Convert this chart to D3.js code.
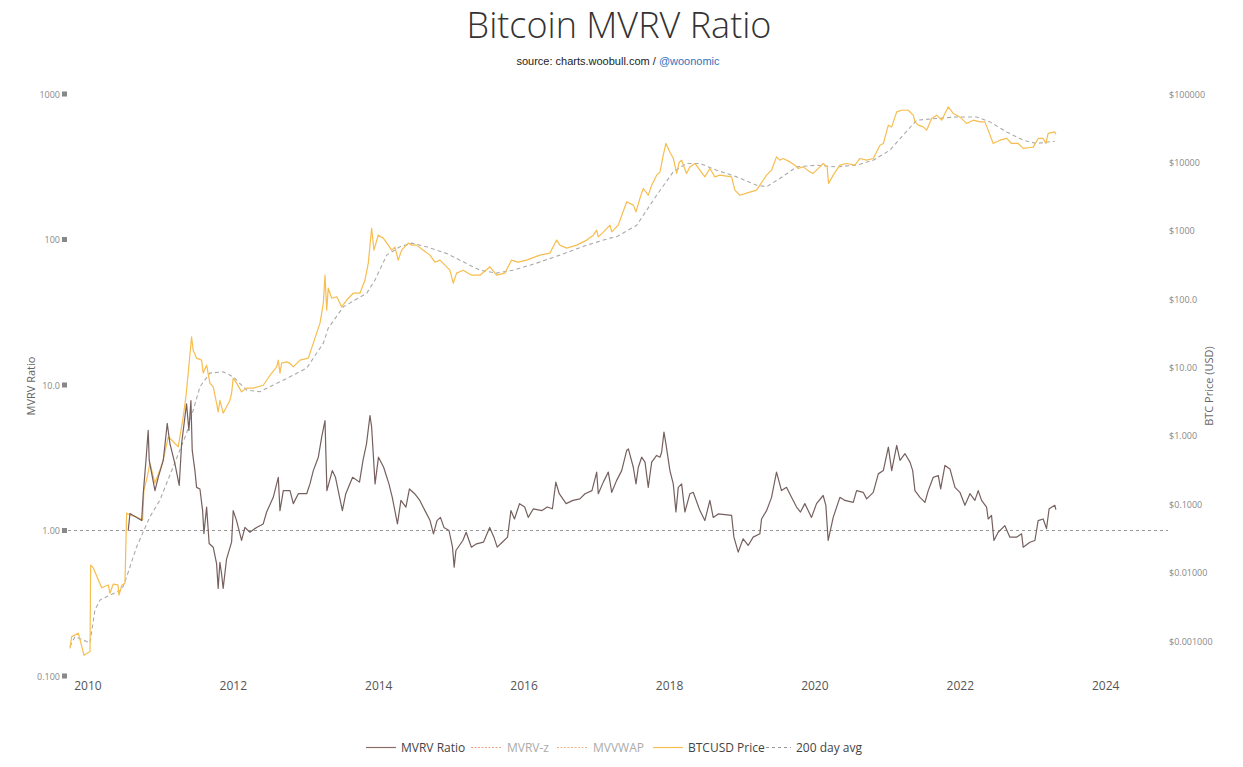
<!DOCTYPE html>
<html>
<head>
<meta charset="utf-8">
<script src="https://cdn.jsdelivr.net/npm/d3@7"></script>
<style>
  html, body { margin: 0; padding: 0; background: #fff; }
  svg { display: block; }
</style>
</head>
<body>
<svg id="chart" width="1243" height="767"></svg>
<script>
// ---------- DATA (decimal years) ----------
const xTickYears = [2010, 2012, 2014, 2016, 2018, 2020, 2022, 2024];
const mvrvTickLabels = ["1000", "100", "10.0", "1.00", "0.100"];
const mvrvTickValues = [1000, 100, 10, 1, 0.1];
const priceTickLabels = ["$100000", "$10000", "$1000", "$100.0", "$10.00", "$1.000", "$0.1000", "$0.01000", "$0.001000"];
const priceTickValues = [100000, 10000, 1000, 100, 10, 1, 0.1, 0.01, 0.001];
const legendLabels = ["MVRV Ratio", "MVRV-z", "MVVWAP", "BTCUSD Price", "200 day avg"];

const priceDates = [2009.752,2009.776,2009.867,2009.945,2010.028,2010.037,2010.073,2010.188,2010.279,2010.303,2010.348,2010.413,2010.426,2010.468,2010.509,
2010.532,2010.578,2010.670,2010.752,2010.770,2010.816,2010.853,2010.922,2010.990,2011.036,2011.105,2011.151,2011.242,2011.311,2011.348,2011.380,2011.426,
2011.448,2011.495,2011.564,2011.586,2011.633,2011.678,2011.724,2011.770,2011.792,2011.816,2011.861,2011.908,2011.953,2011.977,2011.999,2012.045,2012.114,
2012.183,2012.274,2012.411,2012.527,2012.596,2012.618,2012.641,2012.664,2012.733,2012.779,2012.824,2012.916,2013.030,2013.099,2013.191,2013.237,2013.260,
2013.283,2013.305,2013.352,2013.421,2013.490,2013.558,2013.649,2013.741,2013.810,2013.856,2013.902,2013.934,2013.993,2014.062,2014.131,2014.177,2014.223,
2014.268,2014.315,2014.406,2014.457,2014.521,2014.612,2014.704,2014.773,2014.842,2014.911,2014.979,2015.025,2015.071,2015.162,2015.278,2015.392,2015.530,
2015.622,2015.736,2015.828,2015.915,2016.034,2016.217,2016.355,2016.447,2016.492,2016.585,2016.722,2016.860,2016.951,2016.997,2017.019,2017.088,2017.180,
2017.204,2017.294,2017.410,2017.501,2017.538,2017.593,2017.638,2017.707,2017.754,2017.822,2017.868,2017.913,2017.950,2018.005,2018.051,2018.098,2018.133,
2018.166,2018.234,2018.280,2018.349,2018.418,2018.486,2018.555,2018.624,2018.693,2018.854,2018.899,2018.968,2019.060,2019.197,2019.243,2019.336,2019.404,
2019.472,2019.518,2019.564,2019.656,2019.725,2019.770,2019.839,2019.931,2019.977,2020.069,2020.114,2020.169,2020.188,2020.252,2020.344,2020.436,2020.550,
2020.619,2020.711,2020.802,2020.894,2020.940,2021.009,2021.055,2021.124,2021.192,2021.283,2021.352,2021.375,2021.421,2021.490,2021.536,2021.605,2021.674,
2021.742,2021.833,2021.902,2021.994,2022.086,2022.178,2022.270,2022.338,2022.383,2022.452,2022.545,2022.637,2022.705,2022.796,2022.865,2022.957,2023.003,
2023.071,2023.140,2023.177,2023.209,2023.301,2023.315];
const priceValues = [0.00078,0.00116,0.0013,0.00062,0.0007,0.0129,0.0117,0.006,0.0066,0.005,0.0068,0.0066,0.0047,0.0066,0.0070,
0.0743,0.0695,0.065,0.0587,0.161,0.252,0.40,0.204,0.316,0.443,0.97,0.87,0.69,1.9,3.73,8.3,28,
17.9,13.7,12.8,8.3,10.8,5.9,5.2,3.0,2.25,3.3,2.15,2.66,3.3,4.2,7.0,5.9,4.4,
5.0,5.0,5.5,8.3,10.2,12.8,8.3,11.6,12.1,11.5,10.2,12.8,13.7,22.7,44.6,87.5,224,
69,145,103,108,77,97,122,122,190,336,1090,520,862,780,616,520,575,
372,520,659,616,616,520,440,347,372,314,265,171,240,265,224,224,297,
224,240,372,347,372,440,471,730,616,557,616,730,862,1020,815,955,1210,
964,1210,2650,2370,1890,3000,4150,3310,4640,6500,7200,12740,18900,14100,11500,6890,10070,
10770,6890,8590,9640,7690,6140,8140,6140,6500,6140,3930,3310,3550,3930,4640,6500,7690,
12030,10770,11400,10160,9100,8140,8590,7260,6890,8590,9640,8590,4920,6500,9100,9640,9100,
11400,10770,11400,17800,18900,35000,33000,54700,57900,57900,49000,39100,35000,33000,29600,43900,49000,
41400,64700,51900,46200,37100,41400,39100,39100,29600,18900,21100,22400,18900,18900,16000,16500,16700,
22400,22400,18900,26500,27900,25800];

const avgDates = [2009.752,2009.821,2010.028,2010.096,2010.165,2010.303,2010.464,2010.532,2010.670,2010.853,2010.990,2011.173,2011.358,2011.541,2011.678,
2011.861,2011.999,2012.183,2012.366,2012.549,2012.779,2013.008,2013.237,2013.305,2013.512,2013.834,2013.948,2014.109,2014.292,2014.453,2014.659,2014.934,
2015.162,2015.392,2015.622,2015.850,2016.172,2016.492,2016.860,2017.180,2017.272,2017.547,2017.822,2018.051,2018.234,2018.418,2018.648,2018.923,2019.197,
2019.336,2019.518,2019.748,2020.023,2020.298,2020.573,2020.802,2021.031,2021.214,2021.398,2021.674,2021.949,2022.224,2022.407,2022.637,2022.865,2023.049,2023.301];
const avgValues = [0.00083,0.00116,0.00094,0.00284,0.00397,0.0047,0.00557,0.00863,0.0239,0.0656,0.115,0.353,1.10,5.22,8.28,
8.65,7.31,4.68,4.42,5.53,7.31,9.8,22.7,37.7,77,122,190,440,582,659,582,466,
351,265,240,265,336,440,616,780,815,1200,3310,7260,9640,9640,7690,6140,4640,
4400,5820,8590,9100,8590,9100,10770,15100,25000,41400,43900,46200,46200,39100,27900,21100,18900,20400];

const mvrvDates = [2010.554,2010.578,2010.739,2010.761,2010.798,2010.829,2010.843,2010.922,2010.967,2011.036,2011.091,2011.128,2011.197,2011.256,2011.289,
2011.334,2011.357,2011.389,2011.417,2011.435,2011.472,2011.495,2011.541,2011.578,2011.596,2011.633,2011.668,2011.724,2011.770,2011.792,2011.816,2011.839,
2011.861,2011.908,2011.977,2011.999,2012.045,2012.114,2012.160,2012.228,2012.320,2012.411,2012.458,2012.549,2012.618,2012.641,2012.687,2012.779,2012.824,
2012.893,2013.008,2013.053,2013.099,2013.168,2013.214,2013.260,2013.286,2013.360,2013.404,2013.499,2013.546,2013.640,2013.735,2013.783,2013.831,2013.879,
2013.902,2013.949,2013.996,2014.067,2014.140,2014.186,2014.257,2014.305,2014.374,2014.422,2014.494,2014.565,2014.636,2014.706,2014.753,2014.802,2014.849,
2014.897,2014.967,2015.015,2015.038,2015.062,2015.157,2015.203,2015.275,2015.346,2015.441,2015.527,2015.585,2015.630,2015.700,2015.773,2015.819,2015.868,
2015.938,2016.009,2016.057,2016.128,2016.246,2016.317,2016.389,2016.436,2016.483,2016.577,2016.672,2016.766,2016.837,2016.932,2016.997,2017.019,2017.088,
2017.157,2017.204,2017.272,2017.341,2017.410,2017.433,2017.501,2017.538,2017.570,2017.616,2017.662,2017.707,2017.754,2017.822,2017.868,2017.891,2017.923,
2017.950,2018.005,2018.051,2018.088,2018.120,2018.166,2018.211,2018.280,2018.326,2018.418,2018.486,2018.555,2018.601,2018.670,2018.854,2018.886,2018.945,
2019.013,2019.082,2019.151,2019.243,2019.266,2019.336,2019.404,2019.472,2019.541,2019.610,2019.679,2019.748,2019.802,2019.862,2019.954,2020.023,2020.114,
2020.151,2020.183,2020.252,2020.344,2020.413,2020.527,2020.573,2020.664,2020.711,2020.802,2020.871,2020.940,2021.009,2021.055,2021.124,2021.169,2021.238,
2021.307,2021.344,2021.375,2021.444,2021.513,2021.558,2021.627,2021.696,2021.729,2021.788,2021.857,2021.926,2021.994,2022.063,2022.132,2022.200,2022.246,
2022.292,2022.361,2022.383,2022.429,2022.462,2022.521,2022.613,2022.682,2022.774,2022.843,2022.865,2022.957,2023.026,2023.071,2023.140,2023.186,2023.222,
2023.301,2023.315];
const mvrvValues = [1.00,1.31,1.17,1.80,3.03,4.87,3.03,1.88,2.32,3.03,5.44,3.96,2.87,2.04,3.96,
6.01,7.43,4.87,7.82,3.55,2.58,1.98,1.93,1.37,0.953,1.45,0.814,0.768,0.593,0.40,0.605,0.504,
0.40,0.639,0.831,1.37,1.17,0.854,1.05,0.973,1.05,1.11,1.34,1.69,2.32,1.37,1.88,1.88,1.53,
1.79,1.79,2.09,2.58,3.19,4.38,5.70,1.88,2.58,2.32,1.37,1.79,2.32,2.15,3.03,3.94,6.17,
5.13,2.09,3.19,2.72,2.09,1.69,1.11,1.61,1.45,1.93,1.79,1.61,1.37,1.17,0.949,1.17,1.23,
1.05,1.00,0.768,0.56,0.729,0.854,0.973,0.768,0.81,0.831,1.05,0.90,0.768,0.831,0.90,1.37,1.20,
1.53,1.45,1.23,1.41,1.37,1.45,1.41,2.15,1.79,1.53,1.61,1.65,1.79,1.88,2.52,1.79,2.15,
2.52,1.83,2.21,2.58,3.55,3.64,2.72,2.09,2.72,3.19,2.95,1.98,2.95,3.28,3.19,3.45,4.74,
3.94,2.58,2.09,1.34,1.98,2.09,1.34,1.79,1.83,1.37,1.17,1.61,1.23,1.30,1.27,0.90,0.71,
0.877,0.789,0.90,0.949,1.20,1.37,1.69,2.52,1.88,1.98,1.69,1.45,1.34,1.53,1.23,1.53,1.74,
1.49,0.854,1.23,1.69,1.61,1.56,1.88,1.83,1.65,1.83,2.45,2.58,3.74,2.58,3.84,3.03,3.37,
2.95,2.58,1.88,1.69,1.56,1.88,2.32,2.39,1.93,2.80,2.65,1.98,1.83,1.49,1.79,1.61,1.88,
1.61,1.45,1.20,1.27,0.854,0.973,1.08,0.90,0.90,0.949,0.768,0.831,0.854,1.17,1.20,1.03,1.41,
1.49,1.39];

// ---------- HELPERS ----------
function toDate(t) {
  const y = Math.floor(t);
  const a = Date.UTC(y, 0, 1), b = Date.UTC(y + 1, 0, 1);
  return new Date(a + (t - y) * (b - a));
}
const zip = (ds, vs) => ds.map((d, i) => ({ date: toDate(d), value: vs[i] }));

const svg = d3.select("#chart");
const plot = { left: 68, right: 1168 };

const x = d3.scaleUtc()
  .domain([toDate(2009.725), toDate(2024.856)])
  .range([plot.left, plot.right]);
const yL = d3.scaleLog().domain([0.1, 1000]).range([676, 94]);
const yR = d3.scaleLog().domain([0.001, 100000]).range([641, 94]);

const BROWN = "#75605e";
const ORANGE = "#f7bd4f";

// ---------- TITLE ----------
svg.append("text")
  .attr("x", 619).attr("y", 38)
  .attr("text-anchor", "middle")
  .attr("font-family", "'Open Sans', sans-serif")
  .attr("font-weight", 300)
  .attr("font-size", 36)
  .attr("fill", "#333")
  .text("Bitcoin MVRV Ratio");

const sub = svg.append("text")
  .attr("x", 618).attr("y", 65)
  .attr("text-anchor", "middle")
  .attr("font-family", "'Liberation Sans', Arial, sans-serif")
  .attr("font-size", 11)
  .attr("fill", "#222");
sub.append("tspan").text("source: charts.woobull.com / ");
sub.append("tspan").attr("fill", "#2f73c0").text("@woonomic");

// ---------- AXES ----------
const axisFont = "'Open Sans', sans-serif";

const gL = svg.append("g");
mvrvTickValues.forEach((v, i) => {
  gL.append("text")
    .attr("x", 60).attr("y", yL(v) + 3.5)
    .attr("text-anchor", "end")
    .attr("font-family", axisFont).attr("font-size", 9)
    .attr("fill", "#888")
    .text(mvrvTickLabels[i]);
  gL.append("rect")
    .attr("x", 62).attr("y", yL(v) - 2.5)
    .attr("width", 5).attr("height", 5)
    .attr("fill", "#888");
});
svg.append("text")
  .attr("transform", `translate(35,386) rotate(-90)`)
  .attr("text-anchor", "middle")
  .attr("font-family", axisFont).attr("font-size", 11)
  .attr("fill", "#666")
  .text("MVRV Ratio");

priceTickValues.forEach((v, i) => {
  svg.append("text")
    .attr("x", 1169).attr("y", yR(v) + 3.5)
    .attr("font-family", axisFont).attr("font-size", 9)
    .attr("fill", "#888")
    .text(priceTickLabels[i]);
});
svg.append("text")
  .attr("transform", `translate(1213,386) rotate(-90)`)
  .attr("text-anchor", "middle")
  .attr("font-family", axisFont).attr("font-size", 11)
  .attr("fill", "#666")
  .text("BTC Price (USD)");

xTickYears.forEach(yr => {
  svg.append("text")
    .attr("x", x(toDate(yr))).attr("y", 690)
    .attr("text-anchor", "middle")
    .attr("font-family", axisFont).attr("font-size", 12)
    .attr("fill", "#555")
    .text(String(yr));
});

// ---------- REFERENCE LINE at MVRV = 1 ----------
svg.append("line")
  .attr("x1", plot.left).attr("x2", plot.right)
  .attr("y1", yL(1)).attr("y2", yL(1))
  .attr("stroke", "#999").attr("stroke-width", 1)
  .attr("stroke-dasharray", "3,3");

// ---------- SERIES ----------
const lineR = d3.line().x(d => x(d.date)).y(d => yR(d.value));
const lineL = d3.line().x(d => x(d.date)).y(d => yL(d.value));

svg.append("path")
  .datum(zip(avgDates, avgValues))
  .attr("d", lineR)
  .attr("fill", "none")
  .attr("stroke", "#aaa").attr("stroke-width", 1.1)
  .attr("stroke-dasharray", "4,3");

svg.append("path")
  .datum(zip(priceDates, priceValues))
  .attr("d", lineR)
  .attr("fill", "none")
  .attr("stroke", ORANGE).attr("stroke-width", 1.2)
  .attr("stroke-linejoin", "round");

svg.append("path")
  .datum(zip(mvrvDates, mvrvValues))
  .attr("d", lineL)
  .attr("fill", "none")
  .attr("stroke", BROWN).attr("stroke-width", 1.2)
  .attr("stroke-linejoin", "round");

// ---------- LEGEND ----------
const legendItems = [
  { label: legendLabels[0], color: "#8a6e66", dash: null, x1: 366, x2: 396, tx: 401, tc: "#444" },
  { label: legendLabels[1], color: "#f0a384", dash: "2,1.5", x1: 471, x2: 501, tx: 507, tc: "#aaa" },
  { label: legendLabels[2], color: "#f2b68c", dash: "2,1.5", x1: 557, x2: 587, tx: 593, tc: "#aaa" },
  { label: legendLabels[3], color: ORANGE, dash: null, x1: 653, x2: 683, tx: 688, tc: "#444" },
  { label: legendLabels[4], color: "#999", dash: "3,3", x1: 766, x2: 791, tx: 796, tc: "#444" }
];
const lg = svg.append("g");
legendItems.forEach(it => {
  lg.append("line")
    .attr("x1", it.x1).attr("x2", it.x2)
    .attr("y1", 747.5).attr("y2", 747.5)
    .attr("stroke", it.color).attr("stroke-width", 1.2)
    .attr("stroke-dasharray", it.dash);
  lg.append("text")
    .attr("x", it.tx).attr("y", 752)
    .attr("font-family", axisFont).attr("font-size", 12)
    .attr("fill", it.tc)
    .text(it.label);
});
</script>
</body>
</html>
